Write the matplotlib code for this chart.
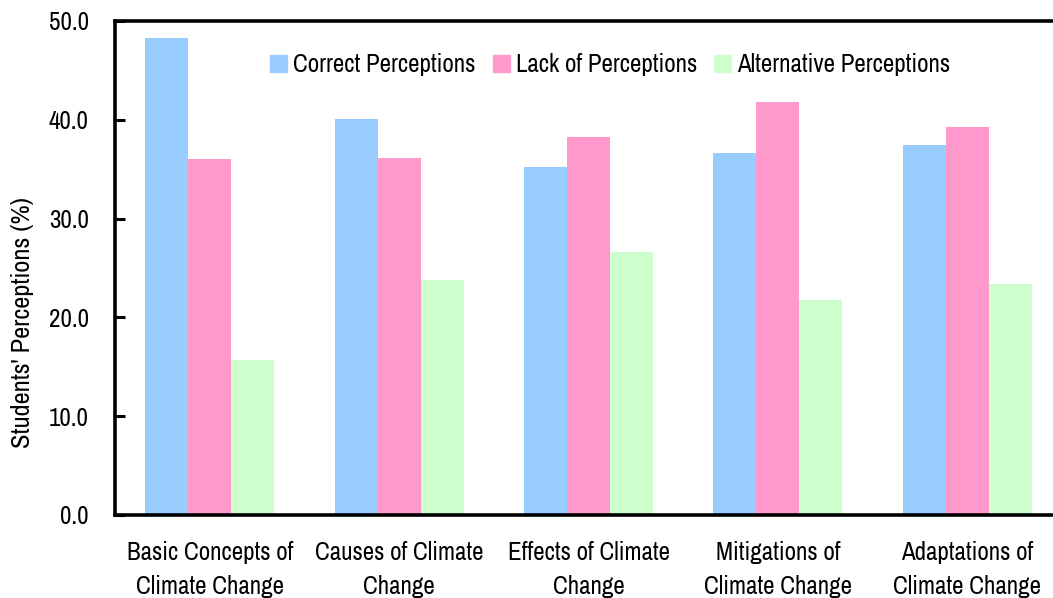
import matplotlib

matplotlib.use("Agg")
import matplotlib.pyplot as plt
import numpy as np
from matplotlib.patches import Patch

plt.rcParams["font.family"] = ["Archivo Narrow", "Liberation Sans", "DejaVu Sans"]

categories = ["Basic Concepts of\nClimate Change", "Causes of Climate\nChange", "Effects of Climate\nChange",
              "Mitigations of\nClimate Change", "Adaptations of\nClimate Change"]
series_names = ["Correct Perceptions", "Lack of Perceptions", "Alternative Perceptions"]
correct = [48.3, 40.1, 35.2, 36.6, 37.4]
lack = [36.0, 36.1, 38.3, 41.8, 39.3]
alternative = [15.7, 23.8, 26.6, 21.8, 23.4]
y_ticks = [0, 10, 20, 30, 40, 50]

colors = ["#99CCFF", "#FF99CC", "#CCFFCC"]
font_size = 18
px = 72 / 100 / font_size  # one pixel in font-size units


def main():
    figure = plt.figure(figsize=(10.53, 5.98), dpi=100)
    axis = figure.add_axes([115 / 1053, 83 / 598, 947 / 1053, 494 / 598])

    x = np.arange(len(categories))
    width = 0.227
    for i, (values, color) in enumerate(zip([correct, lack, alternative], colors)):
        axis.bar(x + (i - 1) * width, values, width, color=color, linewidth=0)

    axis.set_xlim(-0.5, 4.5)
    axis.set_ylim(0, 50)
    axis.set_yticks(y_ticks)
    axis.set_yticklabels([f"{t:.1f}" for t in y_ticks], fontsize=font_size)
    axis.set_xticks(x)
    axis.set_xticklabels(categories, fontsize=font_size, linespacing=1.55)
    axis.tick_params(axis="x", length=0, pad=19)
    axis.tick_params(axis="y", direction="in", length=7, width=2.2, pad=19)

    for spine in axis.spines.values():
        spine.set_linewidth(2.6)
    axis.spines["right"].set_visible(False)

    figure.text(23 / 1053, 1 - 322 / 598, "Students' Perceptions (%)", rotation=90, ha="center", va="center",
                fontsize=19)

    legend = [Patch(color=c, label=n) for c, n in zip(colors, series_names)]
    axis.legend(handles=legend, loc="center", bbox_to_anchor=(610 / 1053, 1 - 65 / 598),
                bbox_transform=figure.transFigure, ncol=3, frameon=False, fontsize=font_size,
                handlelength=17 * px, handleheight=17 * px, handletextpad=6 * px, columnspacing=17 * px)

    plt.savefig("out.png", dpi=100)
    plt.close()


if __name__ == "__main__":
    main()
